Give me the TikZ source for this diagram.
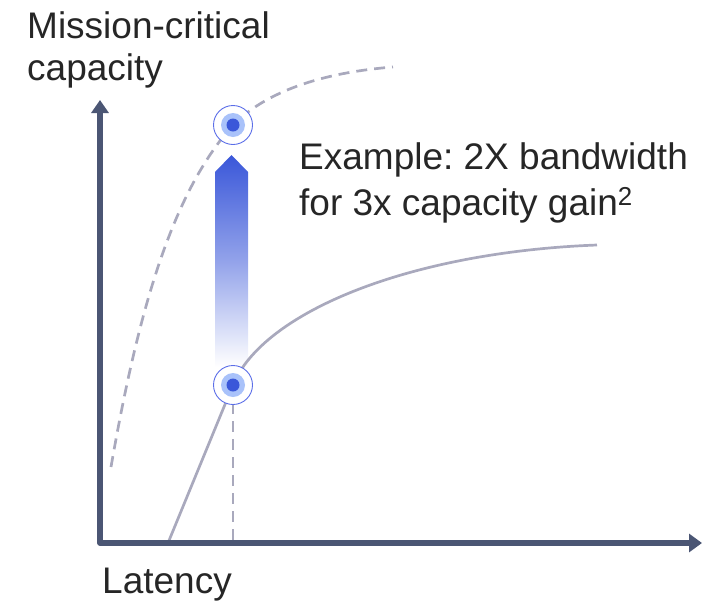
\documentclass[tikz,border=0pt]{standalone}
\usepackage{fontspec}
\setmainfont{Liberation Sans}
\usetikzlibrary{arrows.meta}
\definecolor{axiscol}{HTML}{4B5674}
\definecolor{curvecol}{HTML}{A9A9BD}
\definecolor{txtcol}{HTML}{262626}
\definecolor{ringcol}{HTML}{5B6EE8}
\definecolor{halocol}{HTML}{A9C2FA}
\definecolor{dotcol}{HTML}{3A57D9}
\tikzset{
  axisline/.style={draw=axiscol, line width=5.6pt, line join=round},
  curveline/.style={draw=curvecol, line width=2.7pt},
  dashline/.style={curveline, dash pattern=on 11pt off 7pt},
  ring/.style={circle, draw=ringcol, line width=0.9pt, fill=white, minimum size=39pt, inner sep=0pt},
  halo/.style={circle, fill=halocol, minimum size=24pt, inner sep=0pt},
  dot/.style={circle, fill=dotcol, minimum size=13pt, inner sep=0pt},
  lbl/.style={text=txtcol, inner sep=0pt, anchor=base west, font=\fontsize{37}{46}\selectfont}
}
\begin{document}
\frenchspacing
\begin{tikzpicture}[x=1pt, y=-1pt]
\useasboundingbox (0,0) rectangle (720,603);
% coordinates
\coordinate (O) at (100,543);
\coordinate (ytip) at (100,100);
\coordinate (xtip) at (702,543);
\coordinate (sstart) at (168,543);
\coordinate (send) at (597,245);
\coordinate (dstart) at (111,467);
\coordinate (dend) at (393,67);
\coordinate (vfoot) at (233,543);
\coordinate (p1) at (233,385);
\coordinate (p2) at (233,125);
% gradient arrow
\shade[top color=dotcol, bottom color=white, middle color=dotcol!55!white]
  (215,367) -- (215,172) -- (231.5,155) -- (248,172) -- (248,367) -- cycle;
% curves
\draw[curveline] (sstart) -- (p1) .. controls (263,312) and (410,252) .. (send);
\draw[dashline] (dstart) .. controls (140,300) and (175,190) .. (p2)
  .. controls (270,88) and (330,72) .. (dend);
\draw[dashline] (p1) -- (vfoot);
% points
\node[ring] (r1) at (p1) {};
\node[halo] (h1) at (p1) {};
\node[dot] (d1) at (p1) {};
\node[ring] (r2) at (p2) {};
\node[halo] (h2) at (p2) {};
\node[dot] (d2) at (p2) {};
% axes
\draw[axisline, {Triangle[length=13pt,width=17pt]}-{Triangle[length=13pt,width=18pt]}]
  (ytip) -- (O) -- (xtip);
% labels
\node[lbl] (ylab1) at (27,38) {Mission-critical};
\node[lbl] (ylab2) at (27,80) {capacity};
\node[lbl] (xlab) at (102,593) {Latency};
\node[lbl] (ex1) at (299,169) {Example: 2X bandwidth};
\node[lbl] (ex2) at (299,215) {for 3x capacity gain\textsuperscript{2}};
\end{tikzpicture}
\end{document}
